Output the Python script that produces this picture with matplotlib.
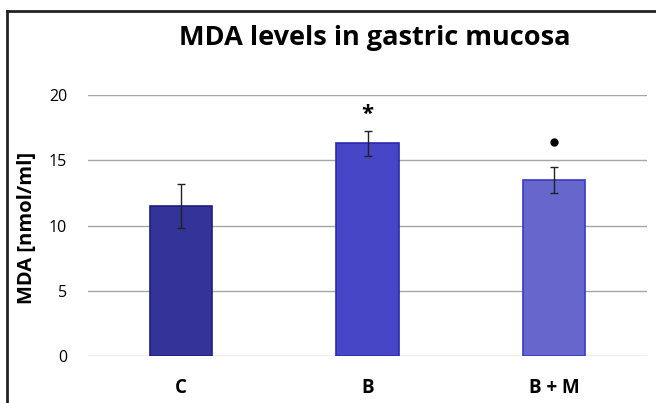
import matplotlib
matplotlib.use("Agg")
import matplotlib.pyplot as plt
from matplotlib.lines import Line2D

categories = ["C", "B", "B + M"]
values = [11.5, 16.3, 13.5]
errors = [1.7, 0.95, 1.0]
colors = ["#333399", "#4646C6", "#6666CC"]
edge_colors = ["#1E1E80", "#2A2AB0", "#3A3AC0"]
yticks = [0, 5, 10, 15, 20]

plt.rcParams['font.family'] = ['Open Sans', 'DejaVu Sans']

W, H = 656, 403
fig = plt.figure(figsize=(W/100, H/100), dpi=100)
ax = fig.add_axes([88/W, 1-356/H, (647-88)/W, (356-95)/H])

x = list(range(len(categories)))
ax.bar(x, values, width=0.333, color=colors, edgecolor=edge_colors, linewidth=1.2, zorder=3)
ax.errorbar(x, values, yerr=errors, fmt='none', ecolor='#222222', elinewidth=1.0,
            capsize=3, capthick=1.0, zorder=4)

ax.text(1, 18.5, "*", ha='center', va='center', fontsize=16, fontweight='bold')
ax.plot([2], [16.4], marker='o', color='black', markersize=5, zorder=5)

ax.set_ylim(0, 20)
ax.set_xlim(-0.5, 2.5)
ax.set_yticks(yticks)
ax.set_yticklabels([str(t) for t in yticks], fontsize=11.5)
ax.set_xticks(x)
ax.set_xticklabels(categories, fontsize=13.5, fontweight='bold')
ax.tick_params(axis='both', length=0)
ax.tick_params(axis='x', pad=16)
ax.tick_params(axis='y', pad=15)
ax.yaxis.grid(True, color='#A6A6A6', linewidth=1.0, zorder=0)
for s in ax.spines.values():
    s.set_visible(False)

fig.text(27/W, 1-228/H, "MDA [nmol/ml]", rotation=90, ha='center', va='center',
         fontsize=14.5, fontweight='bold')

fig.text(375/W, 1-38/H, "MDA levels in gastric mucosa", ha='center', va='center',
         fontsize=19.5, fontweight='bold')

# outer frame (partial, as in reference)
fig.add_artist(Line2D([7/W, 7/W], [0, 1-11/H], color='#222222', linewidth=2, transform=fig.transFigure))
fig.add_artist(Line2D([7/W, 1], [1-11/H, 1-11/H], color='#222222', linewidth=2, transform=fig.transFigure))

fig.savefig("out.png", dpi=100)
